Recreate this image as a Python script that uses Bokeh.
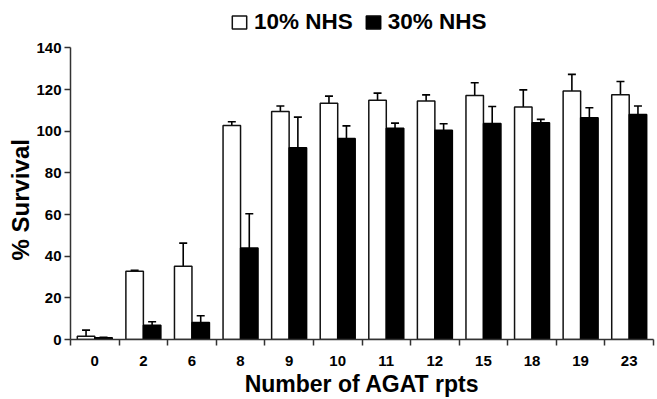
import numpy as np
from bokeh.plotting import figure
from bokeh.models import (ColumnDataSource, Range1d, FixedTicker, Whisker, TeeHead,
                          Legend, LegendItem, Title)
from bokeh.embed import file_html
from bokeh.resources import INLINE

# ---- data ----
categories = ["0", "2", "6", "8", "9", "10", "11", "12", "15", "18", "19", "23"]
nhs10_mean = [1.6, 32.8, 35.2, 102.8, 109.5, 113.5, 114.9, 114.5, 117.2, 111.6, 119.3, 117.5]
nhs10_sd = [2.9, 0.4, 11.1, 1.8, 2.6, 3.4, 3.4, 3.0, 6.1, 8.3, 8.0, 6.4]
nhs30_mean = [0.8, 6.9, 8.2, 44.0, 92.1, 96.5, 101.5, 100.5, 103.7, 104.1, 106.5, 108.1]
nhs30_sd = [0.3, 1.6, 3.2, 16.4, 14.7, 6.1, 2.4, 3.1, 8.2, 1.6, 4.8, 4.0]
series_names = ["10% NHS", "30% NHS"]
y_ticks = [0, 20, 40, 60, 80, 100, 120, 140]
x_title = "Number of AGAT rpts"
y_title = "% Survival"

FONT = "Liberation Sans"
AX = "#333333"

n = len(categories)
centers = np.arange(n) + 0.5
boundaries = list(np.arange(n + 1).astype(float))
off = 0.18
bw = 0.36

src10 = ColumnDataSource(dict(x=centers - off, top=nhs10_mean,
                              up=np.array(nhs10_mean) + np.array(nhs10_sd)))
src30 = ColumnDataSource(dict(x=centers + off, top=nhs30_mean,
                              up=np.array(nhs30_mean) + np.array(nhs30_sd)))

p = figure(width=657, height=399, output_backend="svg", toolbar_location=None,
           x_range=Range1d(0, n), y_range=Range1d(0, 162.8),
           min_border_left=70, min_border_right=4, min_border_top=0, min_border_bottom=0)
p.outline_line_color = None
p.grid.visible = False
p.background_fill_color = "white"
p.border_fill_color = "white"

for src in (src10, src30):
    w = Whisker(base="x", upper="up", lower="top", source=src, dimension="height",
                line_width=1.6, line_color="black",
                upper_head=TeeHead(size=8, line_width=1.6, line_color="black"),
                lower_head=None)
    p.add_layout(w)

r10 = p.vbar(x="x", top="top", width=bw, source=src10, fill_color="white",
             line_color="#111111", line_width=1.5)
r30 = p.vbar(x="x", top="top", width=bw, source=src30, fill_color="black",
             line_color="black", line_width=1.5)

# x axis: labels at category centres, ticks at category boundaries
xa = p.xaxis[0]
xa.ticker = FixedTicker(ticks=list(centers), minor_ticks=boundaries)
xa.major_label_overrides = {float(c): lab for c, lab in zip(centers, categories)}
xa.major_tick_out = 0
xa.major_tick_in = 0
xa.major_tick_line_color = None
xa.minor_tick_out = 6
xa.minor_tick_in = 0
xa.minor_tick_line_color = AX
xa.minor_tick_line_width = 1.5
xa.axis_line_color = AX
xa.axis_line_width = 1.5
xa.major_label_standoff = 10
xa.major_label_text_font = FONT
xa.major_label_text_font_style = "bold"
xa.major_label_text_font_size = "15px"
xa.major_label_text_color = "black"
xa.axis_label = x_title
xa.axis_label_text_font = FONT
xa.axis_label_text_font_style = "bold"
xa.axis_label_text_font_size = "23px"
xa.axis_label_text_color = "black"
xa.axis_label_standoff = 2

ya = p.yaxis[0]
ya.ticker = FixedTicker(ticks=y_ticks)
ya.bounds = (0, 140)
ya.major_tick_out = 6
ya.major_tick_in = 0
ya.minor_tick_line_color = None
ya.major_tick_line_color = AX
ya.major_tick_line_width = 1.5
ya.axis_line_color = AX
ya.axis_line_width = 1.5
ya.major_label_standoff = 3
ya.major_label_text_font = FONT
ya.major_label_text_font_style = "bold"
ya.major_label_text_font_size = "15px"
ya.major_label_text_color = "black"

# y axis title as a left-side title, centred on the 0..140 span of the axis
p.add_layout(Title(text=y_title, align="left", offset=79, standoff=0,
                   text_font=FONT, text_font_style="bold", text_font_size="24px",
                   text_color="black"), "left")

legend = Legend(items=[LegendItem(label=series_names[0], renderers=[r10]),
                       LegendItem(label=series_names[1], renderers=[r30])],
                orientation="horizontal", location=(160, 304),
                glyph_width=18, glyph_height=16, label_standoff=6, spacing=11,
                padding=0, margin=0, border_line_color=None,
                background_fill_alpha=0,
                label_text_font=FONT, label_text_font_style="bold",
                label_text_font_size="22.5px", label_text_color="black")
p.add_layout(legend)

open("out.html", "w").write(file_html(p, INLINE))
